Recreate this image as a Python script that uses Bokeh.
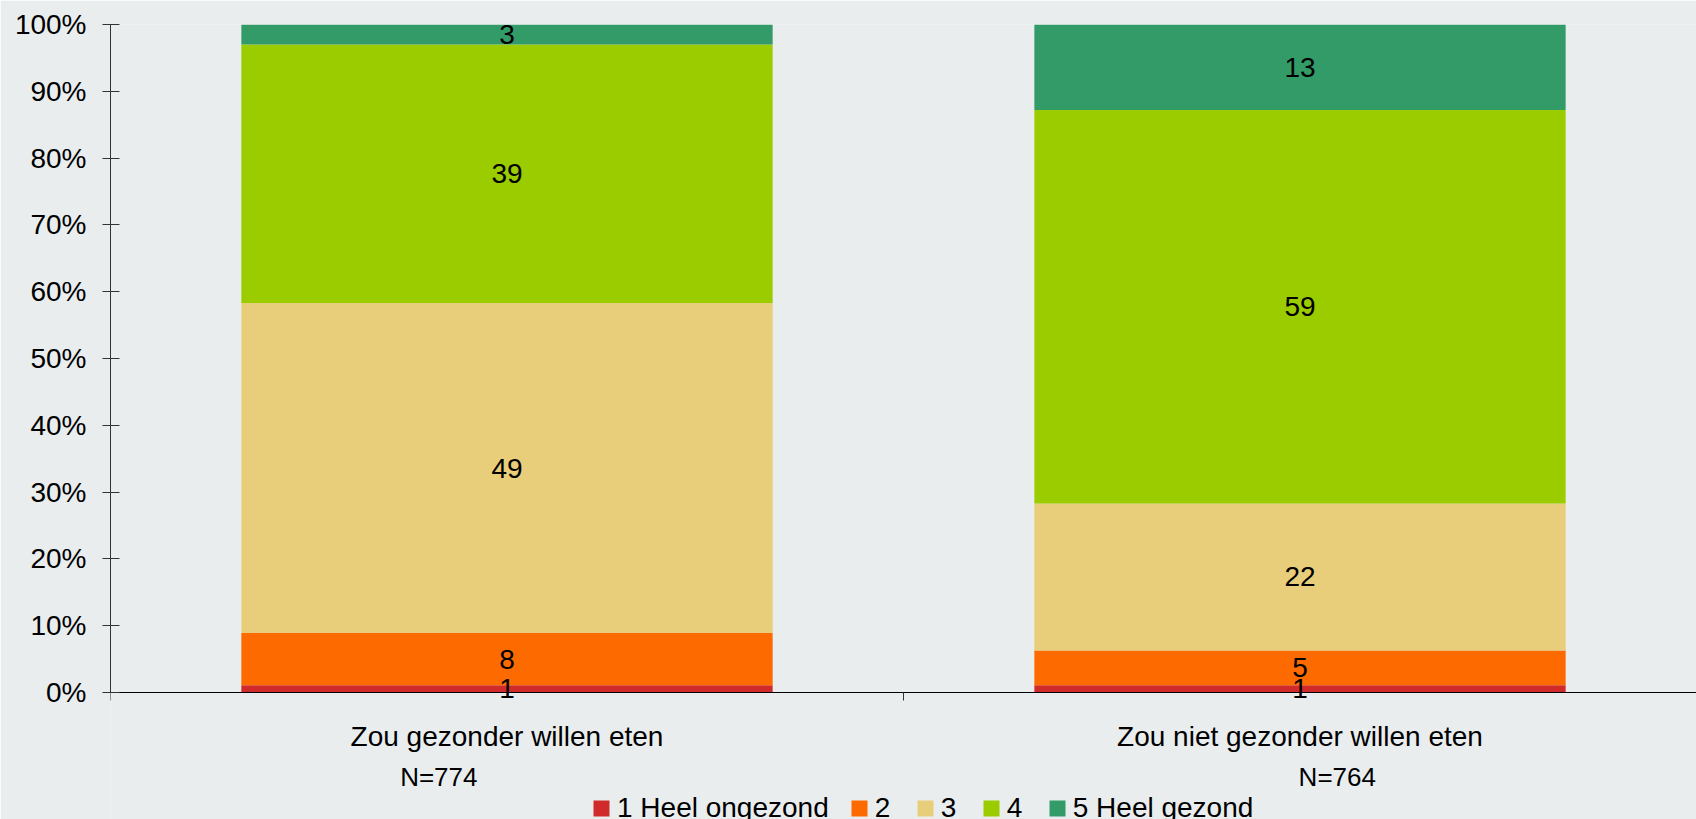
from bokeh.plotting import figure
from bokeh.models import (ColumnDataSource, FixedTicker, Legend, LegendItem,
                          Range1d, PrintfTickFormatter)
from bokeh.embed import file_html
from bokeh.resources import INLINE
from bokeh.core.properties import value

# ---- data ----
categories = ["Zou gezonder willen eten", "Zou niet gezonder willen eten"]
n_labels = ["N=774", "N=764"]
series = ["1 Heel ongezond", "2", "3", "4", "5 Heel gezond"]
s1 = [1.1, 1.1]
s2 = [7.8, 5.2]
s3 = [49.4, 22.0]
s4 = [38.7, 58.9]
s5 = [3.0, 12.8]
y_ticks = [0, 10, 20, 30, 40, 50, 60, 70, 80, 90, 100]

colors = ["#D02A2A", "#FC6A00", "#E8CE7A", "#9BCC00", "#339B68"]
BG = "#E9EDEE"
FONT = "Liberation Sans"

x_pos = [i + 0.5 for i in range(len(categories))]
n_offsets = [-0.086, 0.047]
n_pos = [x + o for x, o in zip(x_pos, n_offsets)]
N_Y = -12.66          # vertical position of the N labels (below the axis)
Y_START = -20.06      # frame extends below 0 to hold labels and legend

keys = ["s1", "s2", "s3", "s4", "s5"]
vals = [s1, s2, s3, s4, s5]
data = {"x": x_pos}
for k, v in zip(keys, vals):
    data[k] = v
source = ColumnDataSource(data)

p = figure(frame_width=1586, frame_height=802, output_backend="svg", toolbar_location=None,
           x_range=Range1d(0, 2), y_range=Range1d(Y_START, 100),
           min_border_left=110, min_border_right=0, min_border_top=24, min_border_bottom=0)
p.background_fill_color = BG
p.border_fill_color = BG
p.outline_line_color = None
p.xgrid.visible = False
p.ygrid.visible = False

renderers = p.vbar_stack(keys, x="x", width=0.67, source=source, color=colors,
                         line_color=None)

# data labels
lx, ly, lt = [], [], []
for i, x in enumerate(x_pos):
    base = 0.0
    for v in vals:
        val = v[i]
        lx.append(x)
        ly.append(base + val / 2)
        lt.append(str(int(round(val))))
        base += val
p.text(x=lx, y=ly, text=lt, text_align="center", text_baseline="middle",
       text_font=value(FONT), text_font_size="28px", text_color="black")

# N labels
p.text(x=n_pos, y=[N_Y] * len(n_pos), text=n_labels, text_align="center",
       text_baseline="middle", text_font=value(FONT), text_font_size="26px",
       text_color="black")

# y axis
ya = p.yaxis[0]
ya.ticker = FixedTicker(ticks=y_ticks)
ya.bounds = (0, 100)
ya.formatter = PrintfTickFormatter(format="%d%%")
ya.major_tick_in = 9
ya.major_tick_out = 8
ya.minor_tick_line_color = None
ya.major_label_standoff = 16
ya.axis_line_color = "#333333"
ya.major_tick_line_color = "#333333"
ya.major_label_text_font = FONT
ya.major_label_text_font_size = "28px"
ya.major_label_text_color = "black"

# x axis at y = 0 (category labels, boundary ticks)
xa = p.xaxis[0]
xa.fixed_location = 0
xa.ticker = FixedTicker(ticks=x_pos, minor_ticks=[0, 1, 2])
xa.major_label_overrides = {x: c for x, c in zip(x_pos, categories)}
xa.major_tick_line_color = None
xa.major_tick_out = 0
xa.major_tick_in = 0
xa.minor_tick_out = 8
xa.minor_tick_in = 0
xa.minor_tick_line_color = "#333333"
xa.axis_line_color = "black"
xa.major_label_standoff = 21
xa.major_label_text_font = FONT
xa.major_label_text_font_size = "28px"
xa.major_label_text_color = "black"

legend = Legend(items=[LegendItem(label=s, renderers=[r]) for s, r in zip(series, renderers)],
                orientation="horizontal", location=(481, 2),
                glyph_width=20, glyph_height=20, label_standoff=6, spacing=20,
                padding=0, margin=0, border_line_color=None,
                background_fill_alpha=0, label_text_font=FONT,
                label_text_font_size="28px", label_text_color="black")
p.add_layout(legend, "center")

open("out.html", "w").write(file_html(p, INLINE))
